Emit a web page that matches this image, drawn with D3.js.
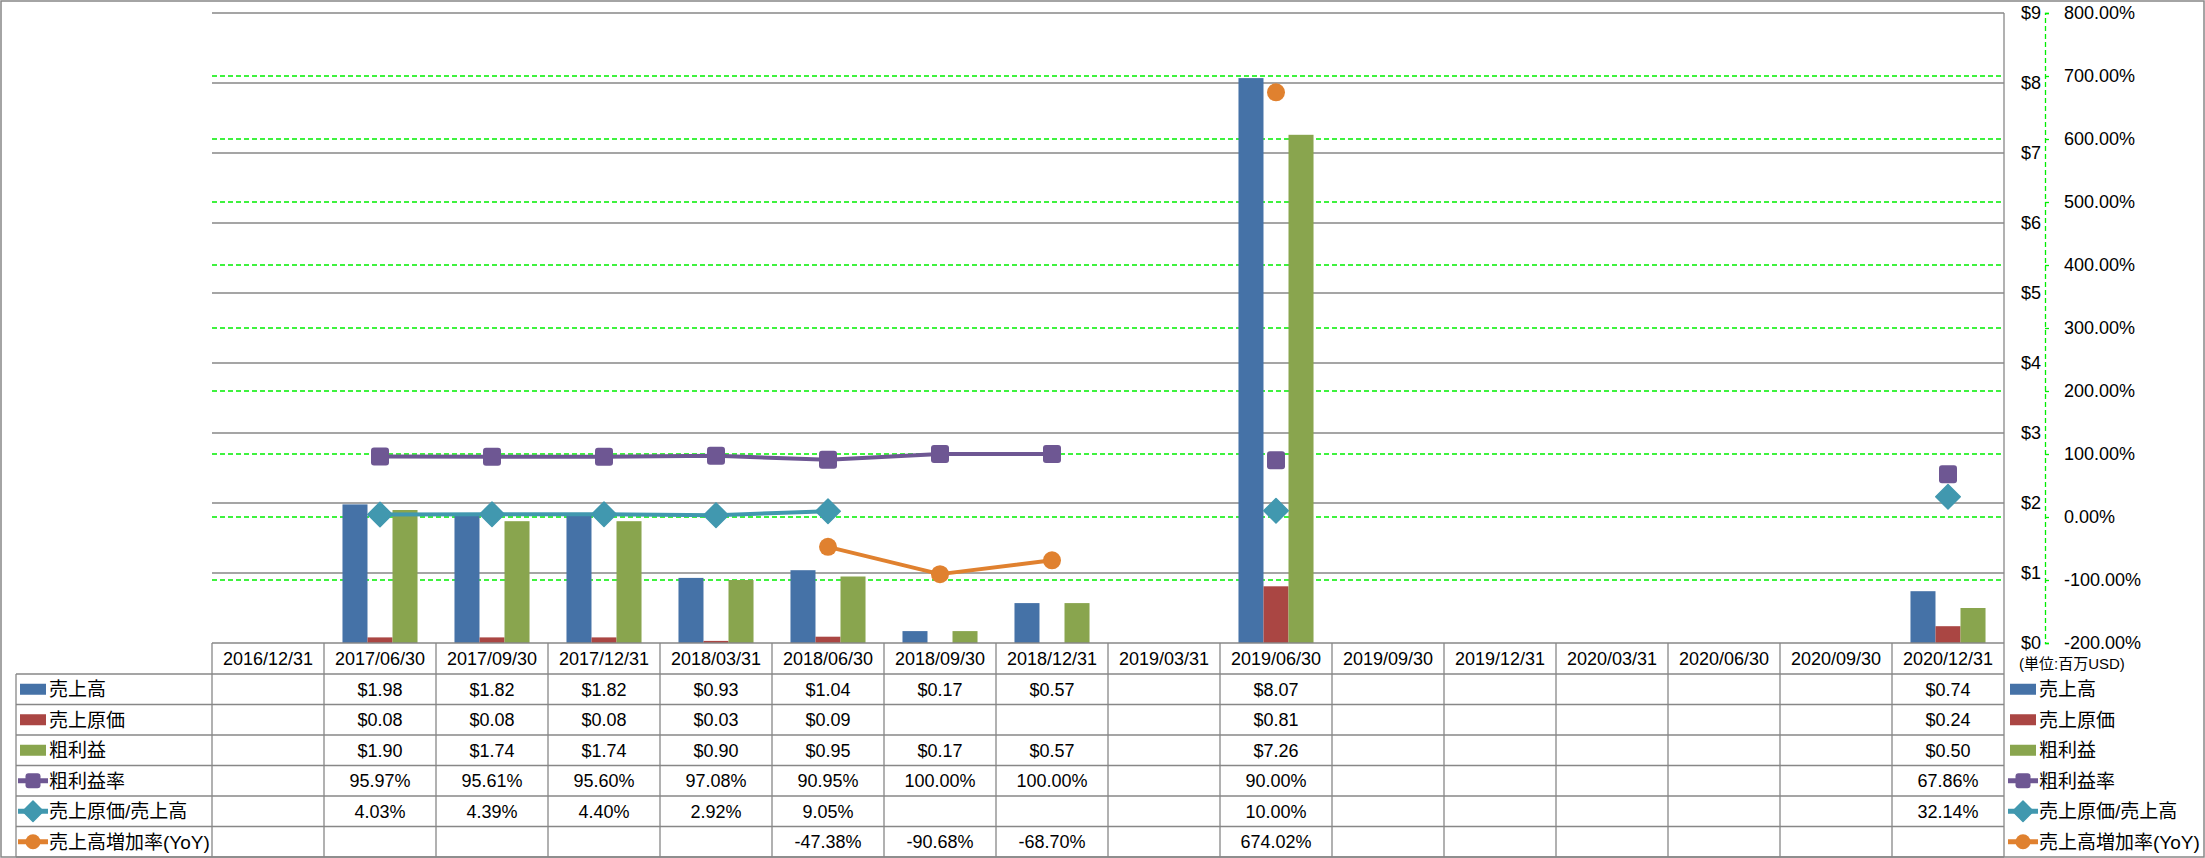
<!DOCTYPE html>
<html>
<head>
<meta charset="utf-8">
<script src="https://cdn.jsdelivr.net/npm/d3@7"></script>
<style>
  body { margin: 0; background: #fff; }
  text { font-family: "Liberation Sans", "Noto Sans CJK JP", sans-serif; fill: #000; }
</style>
</head>
<body>
<div id="chart"></div>
<script>
// data (USD millions / percent)
var categories = ["2016/12/31", "2017/06/30", "2017/09/30", "2017/12/31", "2018/03/31", "2018/06/30",
  "2018/09/30", "2018/12/31", "2019/03/31", "2019/06/30", "2019/09/30", "2019/12/31",
  "2020/03/31", "2020/06/30", "2020/09/30", "2020/12/31"];
var revenue   = [null, 1.98, 1.82, 1.82, 0.93, 1.04, 0.17, 0.57, null, 8.07, null, null, null, null, null, 0.74];
var costSales = [null, 0.08, 0.08, 0.08, 0.03, 0.09, null, null, null, 0.81, null, null, null, null, null, 0.24];
var grossProfit = [null, 1.90, 1.74, 1.74, 0.90, 0.95, 0.17, 0.57, null, 7.26, null, null, null, null, null, 0.50];
var grossMargin = [null, 95.97, 95.61, 95.60, 97.08, 90.95, 100.00, 100.00, null, 90.00, null, null, null, null, null, 67.86];
var costRatio   = [null, 4.03, 4.39, 4.40, 2.92, 9.05, null, null, null, 10.00, null, null, null, null, null, 32.14];
var revenueYoY  = [null, null, null, null, null, -47.38, -90.68, -68.70, null, 674.02, null, null, null, null, null, null];

var barNames  = ["売上高", "売上原価", "粗利益"];
var lineNames = ["粗利益率", "売上原価/売上高", "売上高増加率(YoY)"];
var leftTicks  = [0, 1, 2, 3, 4, 5, 6, 7, 8, 9];
var rightTicks = [-200, -100, 0, 100, 200, 300, 400, 500, 600, 700, 800];

// styles
var barColors  = ["#4572A7", "#AA4643", "#89A54E"];
var lineColors = ["#6E5793", "#4198AF", "#E0812F"];
var markerTypes = ["square", "diamond", "circle"];
var gridGray = "#878787";

var W = 2205, H = 858;
var plot = { left: 212, right: 2004, top: 13, bottom: 643 };
var axisX = 2045;

var svg = d3.select("#chart").append("svg")
  .attr("width", W).attr("height", H);

svg.append("rect").attr("x", 1).attr("y", 1).attr("width", W - 2).attr("height", H - 2)
  .attr("fill", "#fff").attr("stroke", gridGray).attr("stroke-width", 1.5);

var barSeries = [revenue, costSales, grossProfit];
var lineSeries = [grossMargin, costRatio, revenueYoY];

// scales
var xCol = d3.scaleBand().domain(categories).range([plot.left, plot.right]);
var x = d3.scaleBand().domain(categories).range([plot.left, plot.right])
  .paddingInner(0.33).paddingOuter(0.165);
var xSub = d3.scaleBand().domain(d3.range(3)).range([0, x.bandwidth()]);
var yL = d3.scaleLinear().domain([0, 9]).range([plot.bottom, plot.top]);
var yR = d3.scaleLinear().domain([-200, 800]).range([plot.bottom, plot.top]);

// gridlines
svg.append("g").selectAll("line").data(leftTicks.slice(1)).join("line")
  .attr("x1", plot.left).attr("x2", plot.right)
  .attr("y1", d => yL(d)).attr("y2", d => yL(d))
  .attr("stroke", gridGray).attr("stroke-width", 1.3);
svg.append("g").selectAll("line").data(rightTicks.slice(1, -1)).join("line")
  .attr("x1", plot.left).attr("x2", plot.right)
  .attr("y1", d => yR(d)).attr("y2", d => yR(d))
  .attr("stroke", "#00EE00").attr("stroke-width", 1.3).attr("stroke-dasharray", "5,3");

// bars
categories.forEach(function(c, i) {
  barSeries.forEach(function(s, k) {
    if (s[i] == null) return;
    svg.append("rect")
      .attr("x", x(c) + xSub(k)).attr("width", xSub.bandwidth())
      .attr("y", yL(s[i])).attr("height", yL(0) - yL(s[i]))
      .attr("fill", barColors[k]);
  });
});

// lines + markers
function marker(g, type, cx, cy, color, size) {
  if (type === "square") {
    g.append("rect").attr("x", cx - size / 2).attr("y", cy - size / 2)
      .attr("width", size).attr("height", size).attr("rx", 3).attr("fill", color);
  } else if (type === "diamond") {
    var h = size * 0.68;
    g.append("path").attr("d", `M${cx},${cy - h}L${cx + h},${cy}L${cx},${cy + h}L${cx - h},${cy}Z`)
      .attr("fill", color).attr("stroke", color).attr("stroke-width", 1.5).attr("stroke-linejoin", "round");
  } else {
    g.append("circle").attr("cx", cx).attr("cy", cy).attr("r", size / 2).attr("fill", color);
  }
}

var line = d3.line()
  .defined(d => d.v != null)
  .x(d => xCol(d.c) + xCol.bandwidth() / 2)
  .y(d => yR(d.v));

lineSeries.forEach(function(s, k) {
  var pts = categories.map((c, i) => ({ c: c, v: s[i] }));
  var g = svg.append("g");
  g.append("path").datum(pts).attr("d", line)
    .attr("fill", "none").attr("stroke", lineColors[k]).attr("stroke-width", 4)
    .attr("stroke-linejoin", "round");
  pts.forEach(function(p) {
    if (p.v == null) return;
    marker(g, markerTypes[k], xCol(p.c) + xCol.bandwidth() / 2, yR(p.v), lineColors[k], 18);
  });
});

// right side axes
var axL = svg.append("g").attr("transform", `translate(${axisX},0)`)
  .call(d3.axisLeft(yL).tickValues(leftTicks).tickSize(0).tickPadding(4).tickFormat(d => "$" + d));
axL.select(".domain").remove();
axL.selectAll("text").style("font-size", "18px").attr("fill", "#000");

var axR = svg.append("g").attr("transform", `translate(${axisX},0)`)
  .call(d3.axisRight(yR).tickValues(rightTicks).tickSize(4).tickPadding(15)
    .tickFormat(d => d.toFixed(2) + "%"));
axR.select(".domain").attr("stroke", "#00EE00").attr("stroke-width", 1.3).attr("stroke-dasharray", "5,3");
axR.selectAll(".tick line").attr("stroke", "#00EE00").attr("stroke-width", 1.3);
axR.selectAll("text").style("font-size", "18px").attr("fill", d => d < 0 ? "#FF0000" : "#000");

svg.append("text").attr("x", 2019).attr("y", 664).attr("dy", "0.35em")
  .style("font-size", "15px").text("(単位:百万USD)");

// data table
var tableTop = plot.bottom, headerBottom = 674, tableBottom = 857, legendLeft = 16;
var rowY = d3.scaleBand().domain(d3.range(6)).range([headerBottom, tableBottom]);
var tbl = svg.append("g").attr("stroke", gridGray).attr("stroke-width", 1.3);

tbl.append("line").attr("x1", plot.left).attr("x2", plot.right).attr("y1", tableTop).attr("y2", tableTop);
d3.range(7).forEach(function(r) {
  var yy = r < 6 ? rowY(r) : tableBottom;
  tbl.append("line").attr("x1", legendLeft).attr("x2", plot.right).attr("y1", yy).attr("y2", yy);
});
categories.forEach(function(c) {
  tbl.append("line").attr("x1", xCol(c)).attr("x2", xCol(c)).attr("y1", tableTop).attr("y2", tableBottom);
});
tbl.append("line").attr("x1", plot.right).attr("x2", plot.right).attr("y1", plot.top).attr("y2", tableBottom);
tbl.append("line").attr("x1", legendLeft).attr("x2", legendLeft).attr("y1", headerBottom).attr("y2", tableBottom);

// header labels
svg.append("g").selectAll("text").data(categories).join("text")
  .attr("x", d => xCol(d) + xCol.bandwidth() / 2)
  .attr("y", (tableTop + headerBottom) / 2).attr("dy", "0.36em")
  .attr("text-anchor", "middle").style("font-size", "18px").text(d => d);

// cell values
var allRows = barSeries.concat(lineSeries);
allRows.forEach(function(s, r) {
  var fmt = r < 3 ? (v => "$" + v.toFixed(2)) : (v => v.toFixed(2) + "%");
  categories.forEach(function(c, i) {
    if (s[i] == null) return;
    svg.append("text")
      .attr("x", xCol(c) + xCol.bandwidth() / 2)
      .attr("y", rowY(r) + rowY.bandwidth() / 2).attr("dy", "0.36em")
      .attr("text-anchor", "middle").style("font-size", "18px").text(fmt(s[i]));
  });
});

// legend keys (in table and on the right)
var allNames = barNames.concat(lineNames);
function legendKey(x0, r) {
  var cy = rowY(r) + rowY.bandwidth() / 2;
  var g = svg.append("g");
  if (r < 3) {
    g.append("rect").attr("x", x0).attr("y", cy - 5.5).attr("width", 26).attr("height", 11)
      .attr("fill", barColors[r]);
  } else {
    var k = r - 3;
    g.append("line").attr("x1", x0 - 2).attr("x2", x0 + 28).attr("y1", cy).attr("y2", cy)
      .attr("stroke", lineColors[k]).attr("stroke-width", 5);
    marker(g, markerTypes[k], x0 + 13, cy, lineColors[k], 15);
  }
  g.append("text").attr("x", x0 + 29).attr("y", cy).attr("dy", "0.36em")
    .style("font-size", "19px").text(allNames[r]);
}
d3.range(6).forEach(function(r) {
  legendKey(20, r);
  legendKey(2010, r);
});
</script>
</body>
</html>
